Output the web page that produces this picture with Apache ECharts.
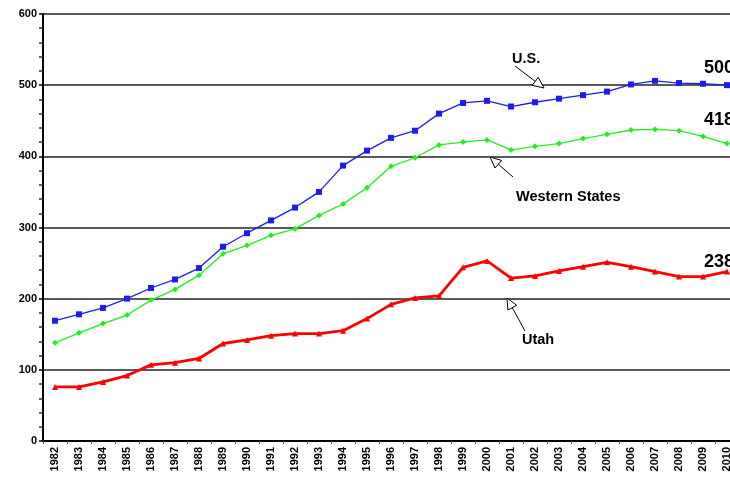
<!DOCTYPE html>
<html>
<head>
<meta charset="utf-8">
<script src="https://cdn.jsdelivr.net/npm/echarts@6/dist/echarts.min.js"></script>
<style>
  html, body { margin: 0; padding: 0; background: #fff; }
  #main { width: 730px; height: 485px; }
</style>
</head>
<body>
<div id="main"></div>
<script>
// years on the x axis
const years = [];
for (let y = 1982; y <= 2010; y++) years.push(String(y));

// values
const usValues = [169, 178, 187, 200, 215, 227, 243, 273, 292, 310, 328, 350, 387, 408, 426, 436, 460, 475, 478, 470, 476, 481, 486, 491, 501, 506, 503, 502, 500];
const westernValues = [138, 152, 165, 177, 198, 213, 233, 263, 275, 289, 298, 317, 333, 356, 386, 398, 416, 420, 423, 409, 414, 418, 425, 431, 437, 438, 436, 428, 418];
const utahValues = [76, 76, 83, 92, 107, 110, 116, 137, 142, 148, 151, 151, 155, 172, 192, 201, 204, 244, 253, 229, 232, 239, 245, 251, 245, 238, 231, 231, 238];

const chart = echarts.init(document.getElementById('main'), null, { renderer: 'canvas' });

// show a bold value label on the last point only
function withEndLabel(values, offsetY) {
  return values.map(function (v, i) {
    if (i !== values.length - 1) return v;
    return {
      value: v,
      label: {
        show: true,
        position: 'top',
        offset: [-8, offsetY],
        formatter: String(v),
        fontFamily: 'Liberation Sans',
        fontWeight: 'bold',
        fontSize: 18,
        color: '#000'
      }
    };
  });
}

// open-headed arrow from (x1,y1) pointing at (x2,y2)
function arrow(x1, y1, x2, y2) {
  const ang = Math.atan2(y2 - y1, x2 - x1);
  const len = 11, half = 5;
  const bx = x2 - len * Math.cos(ang), by = y2 - len * Math.sin(ang);
  const px = -Math.sin(ang) * half, py = Math.cos(ang) * half;
  return [
    { type: 'line', shape: { x1: x1, y1: y1, x2: bx, y2: by }, style: { stroke: '#000', lineWidth: 1 }, z: 10 },
    { type: 'polygon', shape: { points: [[x2, y2], [bx + px, by + py], [bx - px, by - py]] }, style: { fill: '#fff', stroke: '#000', lineWidth: 1 }, z: 10 }
  ];
}

function note(text, x, y) {
  return {
    type: 'text', left: x, top: y, z: 10,
    style: { text: text, fontFamily: 'Liberation Sans', fontWeight: 'bold', fontSize: 14.5, fill: '#000' }
  };
}

const option = {
  animation: false,
  backgroundColor: '#fff',
  grid: { left: 43, right: -9, top: 14, bottom: 44, containLabel: false, outerBoundsMode: 'none' },
  xAxis: {
    type: 'category',
    data: years,
    boundaryGap: true,
    axisLine: { lineStyle: { color: '#000', width: 2 } },
    axisTick: { show: true, length: 3, lineStyle: { color: '#555' } },
    axisLabel: {
      rotate: 90,
      interval: 0,
      margin: 6,
      fontFamily: 'Liberation Sans',
      fontWeight: 'bold',
      fontSize: 11,
      color: '#000'
    }
  },
  yAxis: {
    type: 'value',
    min: 0,
    max: 600,
    interval: 100,
    axisLine: { show: true, lineStyle: { color: '#000', width: 2 } },
    axisTick: { show: true, length: 4, lineStyle: { color: '#000', width: 1.5 } },
    minorTick: { show: true, splitNumber: 5, length: 4, lineStyle: { color: '#333', width: 1.5 } },
    splitLine: { show: true, lineStyle: { color: '#222', width: 1.5 } },
    axisLabel: {
      margin: 6,
      fontFamily: 'Liberation Sans',
      fontWeight: 'bold',
      fontSize: 11,
      color: '#000'
    }
  },
  series: [
    {
      name: 'U.S.',
      type: 'line',
      data: withEndLabel(usValues, 0),
      symbol: 'rect',
      symbolSize: 6,
      color: '#1c1cf0',
      lineStyle: { width: 1.3 },
      z: 3
    },
    {
      name: 'Western States',
      type: 'line',
      data: withEndLabel(westernValues, -6),
      symbol: 'diamond',
      symbolSize: 6,
      color: '#22ee22',
      lineStyle: { width: 1.3 },
      z: 2
    },
    {
      name: 'Utah',
      type: 'line',
      data: withEndLabel(utahValues, 7),
      symbol: 'triangle',
      symbolSize: 6,
      color: '#ff0000',
      lineStyle: { width: 2.8 },
      z: 4
    }
  ],
  graphic: [].concat(
    note('U.S.', 512, 51),
    arrow(515, 66, 544, 88),
    note('Western States', 516, 189),
    arrow(513, 177, 490, 157),
    note('Utah', 522, 332),
    arrow(525, 331, 507, 298)
  )
};

chart.setOption(option);
</script>
</body>
</html>
